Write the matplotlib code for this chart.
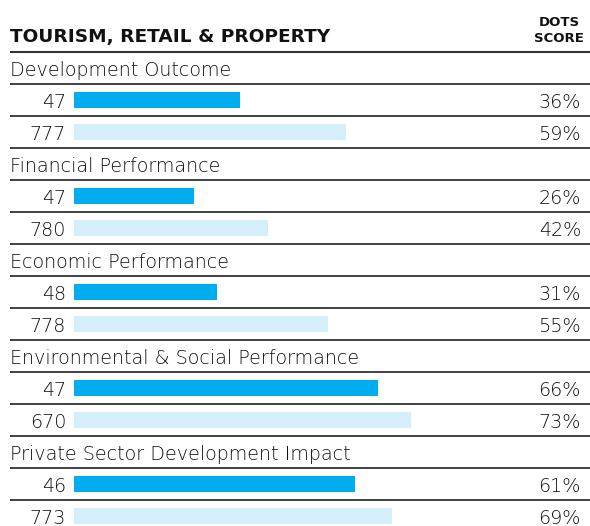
import matplotlib.pyplot as plt

categories = [
    "Development Outcome",
    "Financial Performance",
    "Economic Performance",
    "Environmental & Social Performance",
    "Private Sector Development Impact",
]
counts_sector = [47, 47, 48, 47, 46]
counts_all = [777, 780, 778, 670, 773]
score_sector = [36, 26, 31, 66, 61]
score_all = [59, 42, 55, 73, 69]

dark_blue = "#00AEEF"
light_blue = "#D4EEFA"
line_col = "#333333"
text_col = "#111111"

fig = plt.figure(figsize=(5.9, 5.26), dpi=100)
ax = fig.add_axes([0, 0, 1, 1])
# x in percent units, bars begin at 74px; y in row units
ax.set_xlim(-74 / 4.61, (590 - 74) / 4.61)
ax.set_ylim((526 - 68) / 32, -68 / 32)
ax.axis("off")

tr = ax.get_yaxis_transform()
fam = ["DejaVu Sans"]
body = dict(fontsize=13.8, family=fam, fontweight="light", color=text_col,
            va="center_baseline")

ax.text(10 / 590, -0.8, "TOURISM, RETAIL & PROPERTY", transform=tr,
        fontsize=13.3, fontweight="bold", family=fam, color="#111111",
        va="baseline", ha="left")
ax.text(559 / 590, -0.8, "DOTS\nSCORE", transform=tr, fontsize=9.5,
        fontweight="bold", family=fam, color="#111111", va="baseline",
        ha="center", multialignment="center", linespacing=1.3)

row = 0
for i, cat in enumerate(categories):
    ax.text(10 / 590, row, cat, transform=tr, ha="left", **body)
    for n, v, c in [(counts_sector[i], score_sector[i], dark_blue),
                    (counts_all[i], score_all[i], light_blue)]:
        row += 1
        ax.barh(row, v, height=0.52, left=0, color=c)
        ax.text(66 / 590, row, str(n), transform=tr, ha="right", **body)
        ax.text(581 / 590, row, f"{v}%", transform=tr, ha="right", **body)
    row += 1

for k in range(15):
    ax.plot([10 / 590, 1], [k - 0.5, k - 0.5], transform=tr, color=line_col,
            lw=1.3 if k else 1.5, solid_capstyle="butt")

fig.savefig("out.png", dpi=100)
